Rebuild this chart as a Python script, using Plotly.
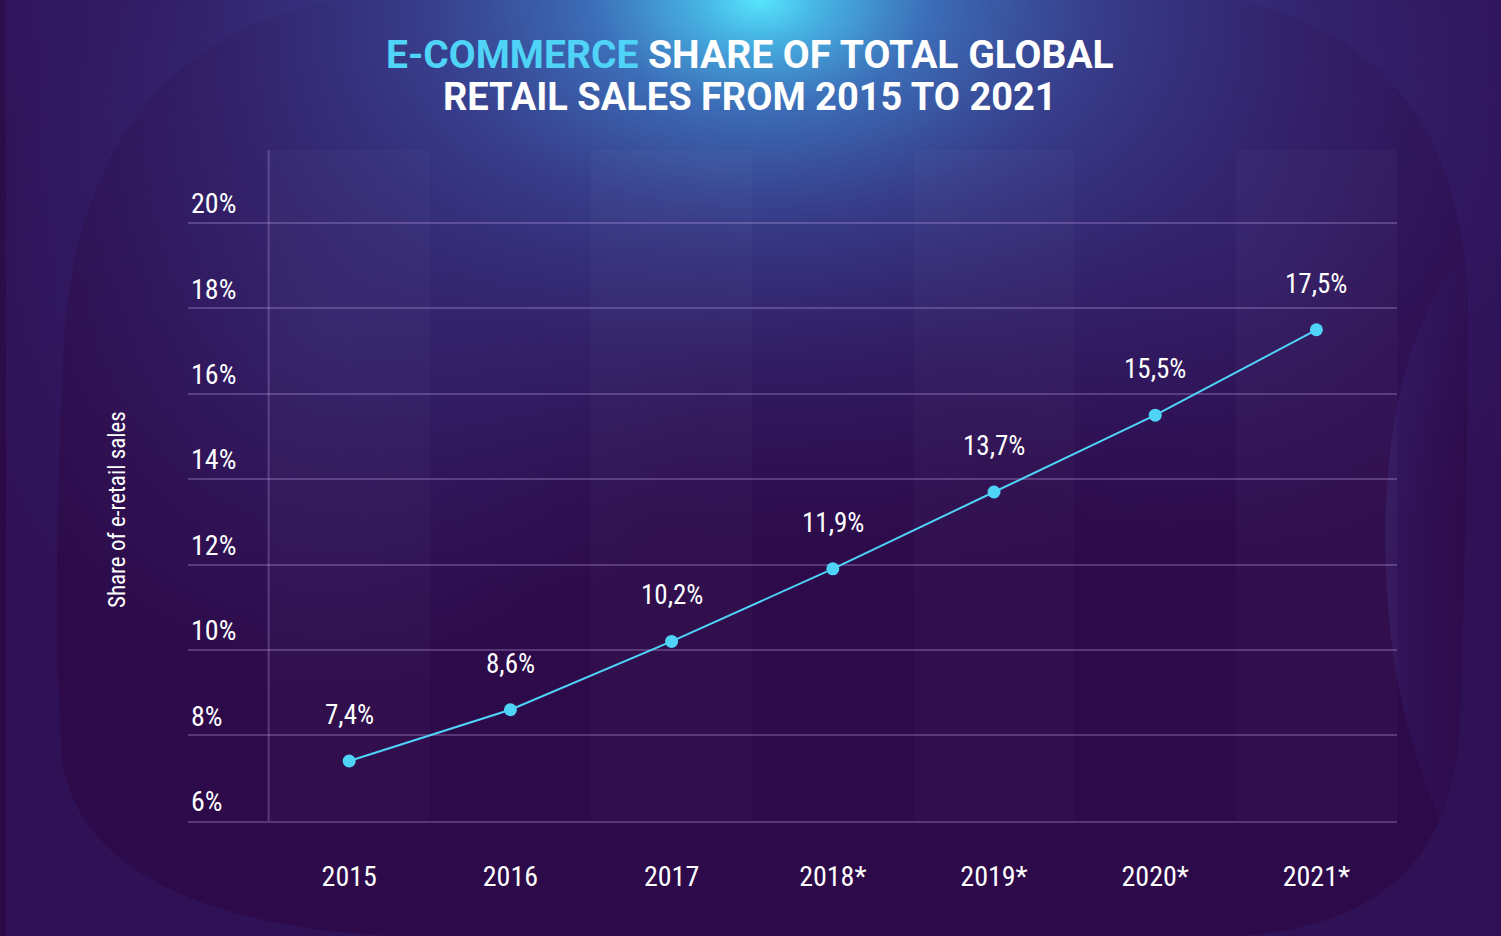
import base64
import plotly.graph_objects as go

# ---------------- data ----------------
categories = ["2015", "2016", "2017", "2018*", "2019*", "2020*", "2021*"]
share = [7.4, 8.6, 10.2, 11.9, 13.7, 15.5, 17.5]
y_ticks = [6, 8, 10, 12, 14, 16, 18, 20]
y_tick_labels = [f"{t}%" for t in y_ticks]
value_labels = [f"{v:.1f}".replace(".", ",") + "%" for v in share]
title_line1_accent = "E-COMMERCE"
title_line1_rest = "SHARE OF TOTAL GLOBAL"
title_line2 = "RETAIL SALES FROM 2015 TO 2021"
y_title = "Share of e-retail sales"

# ---------------- style ----------------
W, H = 1501, 936
ML, MR, MT, MB = 188, 104, 150, 115
CYAN = "#4fd4f7"
GRID = "rgba(190,160,230,0.30)"
COND = "'Roboto Condensed', 'Liberation Sans Narrow', 'DejaVu Sans Condensed', 'Arial Narrow', Roboto, sans-serif"

svg = f'''<svg xmlns="http://www.w3.org/2000/svg" width="{W}" height="{H}" viewBox="0 0 {W} {H}">
<defs>
<radialGradient id="glow" gradientUnits="userSpaceOnUse" cx="760" cy="0" r="760"
  gradientTransform="translate(760 0) scale(1.25 0.8) translate(-760 0)">
<stop offset="0" stop-color="#57e6fd" stop-opacity="1"/>
<stop offset="0.06" stop-color="#48bbea" stop-opacity="0.97"/>
<stop offset="0.18" stop-color="#3e7ac6" stop-opacity="0.88"/>
<stop offset="0.36" stop-color="#3b51a4" stop-opacity="0.7"/>
<stop offset="0.6" stop-color="#383a8c" stop-opacity="0.38"/>
<stop offset="0.85" stop-color="#352a78" stop-opacity="0.1"/>
<stop offset="1" stop-color="#352a78" stop-opacity="0"/>
</radialGradient>
<radialGradient id="glow2" gradientUnits="userSpaceOnUse" cx="330" cy="330" r="380">
<stop offset="0" stop-color="#3a3a8c" stop-opacity="0.4"/>
<stop offset="1" stop-color="#3a3a8c" stop-opacity="0"/>
</radialGradient>
<radialGradient id="glow3" gradientUnits="userSpaceOnUse" cx="1250" cy="250" r="330">
<stop offset="0" stop-color="#3a3088" stop-opacity="0.3"/>
<stop offset="1" stop-color="#3a3088" stop-opacity="0"/>
</radialGradient>
<linearGradient id="bulge" x1="0" y1="0" x2="1" y2="0">
<stop offset="0" stop-color="#34185f" stop-opacity="0.9"/>
<stop offset="1" stop-color="#2f1055" stop-opacity="0.2"/>
</linearGradient>
</defs>
<rect width="{W}" height="{H}" fill="#2f1156"/>
<path d="M 340 0 C 160 30 75 160 64 340 C 55 520 55 650 62 760 C 80 880 230 930 400 936
         L 1240 936 C 1390 925 1455 850 1460 720 C 1465 560 1468 420 1468 300
         C 1462 140 1390 35 1240 0 Z" fill="#2d0a49"/>
<path d="M 0 0 L 6 0 L 6 936 L 0 936 Z" fill="#2b0944"/>
<path d="M 1466 250 C 1400 330 1382 450 1386 570 C 1390 700 1425 790 1458 860 C 1466 700 1468 450 1466 250 Z" fill="url(#bulge)"/>
<rect width="{W}" height="{H}" fill="url(#glow2)"/>
<rect width="{W}" height="{H}" fill="url(#glow3)"/>
<rect width="{W}" height="{H}" fill="url(#glow)"/>
</svg>'''
bg_uri = "data:image/svg+xml;base64," + base64.b64encode(svg.encode()).decode()

pw, ph = W - ML - MR, H - MT - MB
x_idx = list(range(len(categories)))

fig = go.Figure()
fig.add_trace(go.Scatter(
    x=x_idx, y=share, mode="lines+markers",
    line=dict(color=CYAN, width=2),
    marker=dict(color=CYAN, size=13),
    hoverinfo="skip", showlegend=False,
))

# value labels
for xi, v, t in zip(x_idx, share, value_labels):
    fig.add_annotation(x=xi, y=v, xref="x", yref="y", text=t, showarrow=False,
                       yshift=46, font=dict(family=COND, size=27, color="white"))

# alternating column bands
shapes = []
for xi in x_idx:
    if xi % 2 == 0:
        shapes.append(dict(type="rect", xref="x", yref="paper", x0=xi - 0.5, x1=xi + 0.5,
                           y0=0, y1=1, fillcolor="rgba(255,255,255,0.025)", line_width=0,
                           layer="below"))
shapes.append(dict(type="line", xref="x", yref="paper", x0=-0.5, x1=-0.5, y0=0, y1=1,
                   line=dict(color=GRID, width=2), layer="below"))
fig.update_layout(shapes=shapes)

# titles
fig.add_annotation(xref="paper", yref="paper", x=(750 - ML) / pw, y=1 + (MT - 55) / ph,
                   text=f"<span style='color:{CYAN}'>{title_line1_accent}</span> {title_line1_rest}",
                   showarrow=False, xanchor="center", yanchor="middle",
                   font=dict(family="Roboto", size=39, color="white", weight=700))
fig.add_annotation(xref="paper", yref="paper", x=(750 - ML) / pw, y=1 + (MT - 97) / ph,
                   text=title_line2, showarrow=False, xanchor="center", yanchor="middle",
                   font=dict(family="Roboto", size=38, color="white", weight=700))
fig.add_annotation(xref="paper", yref="paper", x=(117 - ML) / pw, y=(H - MB - 510) / ph,
                   text=y_title, textangle=-90, showarrow=False, xanchor="center", yanchor="middle",
                   font=dict(family=COND, size=23, color="white"))

fig.update_layout(
    width=W, height=H,
    margin=dict(l=ML, r=MR, t=MT, b=MB, pad=0),
    paper_bgcolor="#2b0a45", plot_bgcolor="rgba(0,0,0,0)",
    images=[dict(source=bg_uri, xref="paper", yref="paper", x=-ML / pw, y=1 + MT / ph,
                 sizex=W / pw, sizey=H / ph, xanchor="left", yanchor="top",
                 sizing="stretch", layer="below")],
    xaxis=dict(range=[-1, 6.5], tickvals=x_idx, ticktext=categories,
               showgrid=False, zeroline=False, showline=True, linecolor=GRID, linewidth=2,
               ticks="", ticklabelstandoff=29,
               tickfont=dict(family=COND, size=28, color="white"), fixedrange=True),
    yaxis=dict(range=[5.995, 21.71], tickvals=y_ticks, ticktext=y_tick_labels,
               showgrid=True, gridcolor=GRID, gridwidth=2, zeroline=False, showline=False,
               ticks="", ticklabelposition="inside top",
               tickfont=dict(family=COND, size=28, color="white"), fixedrange=True),
    hovermode=False,
)

fig.write_html("out.html", config={"displayModeBar": False},
               post_script="document.body.style.margin='0';document.body.style.overflow='hidden';")
